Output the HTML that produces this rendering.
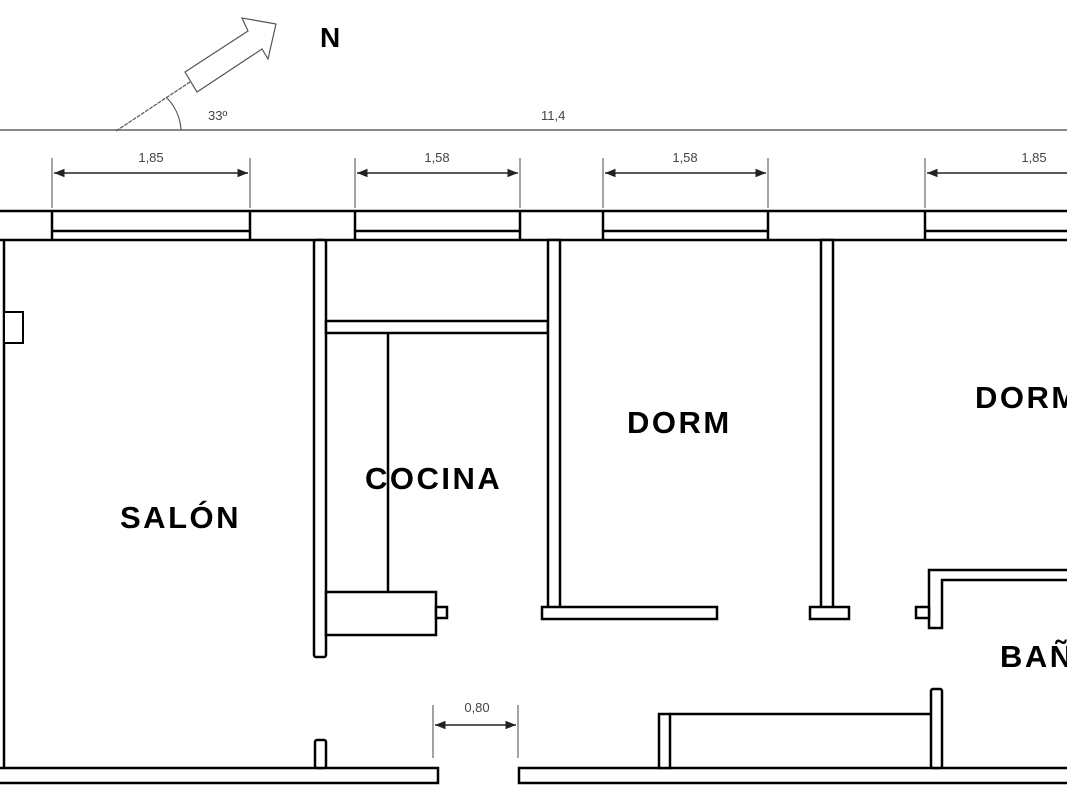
<!DOCTYPE html>
<html><head><meta charset="utf-8"><style>
html,body{margin:0;padding:0;background:#fff;}
svg{display:block;}
text{font-family:"Liberation Sans",Arial,sans-serif;}
</style></head><body>
<svg width="1067" height="800" viewBox="0 0 1067 800" xmlns="http://www.w3.org/2000/svg">
<defs>
<marker id="a" viewBox="0 0 10 10" refX="10" refY="5" markerWidth="7" markerHeight="7" orient="auto-start-reverse"><path d="M0,1 L10,5 L0,9 z" fill="#222"/></marker>
</defs>
<g stroke="#555" stroke-width="1.2" fill="none">
<line x1="0" y1="130" x2="1067" y2="130" stroke="#444"/>
<line x1="116" y1="131" x2="190" y2="82" stroke-dasharray="4,1"/>
<path d="M185,72 L248,31 L242,18 L276,24 L268,59 L262,49 L197,92 Z"/>
<path d="M166,97 A 50 50 0 0 1 181,130"/>
</g>
<text x="320" y="47" font-size="28" font-weight="bold">N</text>
<text x="208" y="120" font-size="13" fill="#444">33º</text>
<text x="541" y="120" font-size="13" fill="#444">11,4</text>
<g stroke="#666" stroke-width="1.2">
<line x1="52" y1="158" x2="52" y2="208"/><line x1="250" y1="158" x2="250" y2="208"/>
<line x1="355" y1="158" x2="355" y2="208"/><line x1="520" y1="158" x2="520" y2="208"/>
<line x1="603" y1="158" x2="603" y2="208"/><line x1="768" y1="158" x2="768" y2="208"/>
<line x1="925" y1="158" x2="925" y2="208"/>
<line x1="433" y1="705" x2="433" y2="758"/><line x1="518" y1="705" x2="518" y2="758"/>
</g>
<g stroke="#222" stroke-width="1.5">
<line x1="54" y1="173" x2="248" y2="173" marker-start="url(#a)" marker-end="url(#a)"/>
<line x1="357" y1="173" x2="518" y2="173" marker-start="url(#a)" marker-end="url(#a)"/>
<line x1="605" y1="173" x2="766" y2="173" marker-start="url(#a)" marker-end="url(#a)"/>
<line x1="927" y1="173" x2="1070" y2="173" marker-start="url(#a)"/>
<line x1="435" y1="725" x2="516" y2="725" marker-start="url(#a)" marker-end="url(#a)"/>
</g>
<g font-size="13" fill="#444" text-anchor="middle">
<text x="151" y="162">1,85</text><text x="437" y="162">1,58</text>
<text x="685" y="162">1,58</text><text x="1034" y="162">1,85</text>
<text x="477" y="712">0,80</text>
</g>
<g stroke="#000" stroke-width="2.5" fill="#fff">
<line x1="0" y1="211" x2="1067" y2="211"/>
<line x1="0" y1="240" x2="1067" y2="240"/>
<line x1="52" y1="231" x2="250" y2="231"/><line x1="52" y1="211" x2="52" y2="240"/><line x1="250" y1="211" x2="250" y2="240"/>
<line x1="355" y1="231" x2="520" y2="231"/><line x1="355" y1="211" x2="355" y2="240"/><line x1="520" y1="211" x2="520" y2="240"/>
<line x1="603" y1="231" x2="768" y2="231"/><line x1="603" y1="211" x2="603" y2="240"/><line x1="768" y1="211" x2="768" y2="240"/>
<line x1="925" y1="231" x2="1067" y2="231"/><line x1="925" y1="211" x2="925" y2="240"/>
<line x1="4" y1="240" x2="4" y2="768"/>
<rect x="4" y="312" width="19" height="31" stroke-width="2"/>
<rect x="314" y="240" width="12" height="417" rx="2"/>
<rect x="326" y="321" width="222" height="12"/>
<line x1="388" y1="333" x2="388" y2="592"/>
<rect x="326" y="592" width="110" height="43"/>
<rect x="436" y="607" width="11" height="11"/>
<rect x="548" y="240" width="12" height="368"/>
<rect x="542" y="607" width="175" height="12"/>
<rect x="821" y="240" width="12" height="368"/>
<rect x="810" y="607" width="39" height="12"/>
<path d="M929,628 L929,570 L1070,570 L1070,580 L942,580 L942,628 Z"/>
<rect x="916" y="607" width="13" height="11"/>
<path d="M0,768 L438,768 L438,783 L0,783"/>
<path d="M1070,768 L519,768 L519,783 L1070,783"/>
<rect x="315" y="740" width="11" height="28" rx="2"/>
<rect x="659" y="714" width="11" height="54"/>
<line x1="670" y1="714" x2="931" y2="714"/>
<rect x="931" y="689" width="11" height="79" rx="2"/>
</g>
<g font-size="31" font-weight="bold" fill="#000" letter-spacing="2.5">
<text x="120" y="528">SALÓN</text>
<text x="365" y="489">COCINA</text>
<text x="627" y="433">DORM</text>
<text x="975" y="408">DORM</text>
<text x="1000" y="667">BAÑO</text>
</g>
</svg>
</body></html>
